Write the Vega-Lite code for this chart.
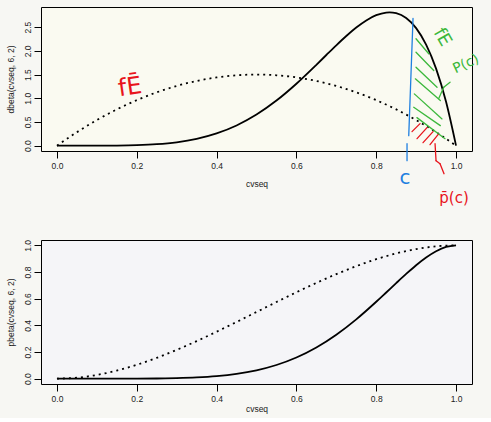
{
  "$schema": "https://vega.github.io/schema/vega-lite/v6.json",
  "background": "#f7f7f3",
  "padding": {"left": 5, "top": 6, "right": 16, "bottom": 4},
  "spacing": 89,
  "bounds": "flush",
  "config": {
    "font": "Liberation Sans",
    "view": {"stroke": "#000", "strokeWidth": 1},
    "axis": {
      "domain": false, "grid": false, "labelOverlap": false, "labelFlush": false,
      "tickColor": "#000", "tickSize": 7, "tickWidth": 1,
      "labelFont": "Liberation Sans", "labelFontSize": 8.5, "labelColor": "#222",
      "titleFont": "Liberation Sans", "titleFontSize": 8.5, "titleFontWeight": "normal", "titleColor": "#222"
    },
    "axisX": {"labelPadding": 3, "titlePadding": 10},
    "axisY": {"labelAngle": -90, "labelAlign": "center", "labelBaseline": "bottom", "labelPadding": 2, "titlePadding": 8, "labelOverlap": false}
  },
  "datasets": {
    "d62": [
      {"x": 0, "y": 0}, {"x": 0.05, "y": 0.00001}, {"x": 0.1, "y": 0.00038}, {"x": 0.15, "y": 0.0027},
      {"x": 0.2, "y": 0.0108}, {"x": 0.25, "y": 0.0308}, {"x": 0.3, "y": 0.0714}, {"x": 0.35, "y": 0.1434},
      {"x": 0.4, "y": 0.258}, {"x": 0.45, "y": 0.4263}, {"x": 0.5, "y": 0.6563}, {"x": 0.55, "y": 0.9512},
      {"x": 0.6, "y": 1.3064}, {"x": 0.65, "y": 1.7056}, {"x": 0.675, "y": 1.9127}, {"x": 0.7, "y": 2.1177},
      {"x": 0.725, "y": 2.3135}, {"x": 0.75, "y": 2.4917}, {"x": 0.775, "y": 2.642}, {"x": 0.8, "y": 2.7525},
      {"x": 0.825, "y": 2.809}, {"x": 0.8333, "y": 2.8131}, {"x": 0.85, "y": 2.7953}, {"x": 0.875, "y": 2.6928},
      {"x": 0.9, "y": 2.4801}, {"x": 0.925, "y": 2.1331}, {"x": 0.95, "y": 1.6249}, {"x": 0.975, "y": 0.9252},
      {"x": 1, "y": 0}
    ],
    "d22": [
      {"x": 0, "y": 0}, {"x": 0.05, "y": 0.285}, {"x": 0.1, "y": 0.54}, {"x": 0.15, "y": 0.765},
      {"x": 0.2, "y": 0.96}, {"x": 0.25, "y": 1.125}, {"x": 0.3, "y": 1.26}, {"x": 0.35, "y": 1.365},
      {"x": 0.4, "y": 1.44}, {"x": 0.45, "y": 1.485}, {"x": 0.5, "y": 1.5}, {"x": 0.55, "y": 1.485},
      {"x": 0.6, "y": 1.44}, {"x": 0.65, "y": 1.365}, {"x": 0.7, "y": 1.26}, {"x": 0.75, "y": 1.125},
      {"x": 0.8, "y": 0.96}, {"x": 0.85, "y": 0.765}, {"x": 0.9, "y": 0.54}, {"x": 0.95, "y": 0.285},
      {"x": 1, "y": 0}
    ],
    "p62": [
      {"x": 0, "y": 0}, {"x": 0.05, "y": 0}, {"x": 0.1, "y": 0.0000064}, {"x": 0.15, "y": 0.0000695},
      {"x": 0.2, "y": 0.000371}, {"x": 0.25, "y": 0.00134}, {"x": 0.3, "y": 0.00379}, {"x": 0.35, "y": 0.00901},
      {"x": 0.4, "y": 0.01884}, {"x": 0.45, "y": 0.0357}, {"x": 0.5, "y": 0.0625}, {"x": 0.55, "y": 0.1024},
      {"x": 0.6, "y": 0.1586}, {"x": 0.65, "y": 0.2338}, {"x": 0.7, "y": 0.3294}, {"x": 0.75, "y": 0.4449},
      {"x": 0.8, "y": 0.5767}, {"x": 0.825, "y": 0.6464}, {"x": 0.85, "y": 0.7166}, {"x": 0.875, "y": 0.7854},
      {"x": 0.9, "y": 0.8503}, {"x": 0.925, "y": 0.9083}, {"x": 0.95, "y": 0.9556}, {"x": 0.975, "y": 0.9879},
      {"x": 1, "y": 1}
    ],
    "p22": [
      {"x": 0, "y": 0}, {"x": 0.05, "y": 0.00725}, {"x": 0.1, "y": 0.028}, {"x": 0.15, "y": 0.06075},
      {"x": 0.2, "y": 0.104}, {"x": 0.25, "y": 0.15625}, {"x": 0.3, "y": 0.216}, {"x": 0.35, "y": 0.28175},
      {"x": 0.4, "y": 0.352}, {"x": 0.45, "y": 0.42525}, {"x": 0.5, "y": 0.5}, {"x": 0.55, "y": 0.57475},
      {"x": 0.6, "y": 0.648}, {"x": 0.65, "y": 0.71825}, {"x": 0.7, "y": 0.784}, {"x": 0.75, "y": 0.84375},
      {"x": 0.8, "y": 0.896}, {"x": 0.85, "y": 0.93925}, {"x": 0.9, "y": 0.972}, {"x": 0.95, "y": 0.99275},
      {"x": 1, "y": 1}
    ],
    "strokes": [
      {"x": 0.8997, "y": 2.256, "x2": 0.9316, "y2": 1.939, "c": "green"},
      {"x": 0.8997, "y": 1.972, "x2": 0.9441, "y2": 1.586, "c": "green"},
      {"x": 0.8997, "y": 1.655, "x2": 0.9524, "y2": 1.233, "c": "green"},
      {"x": 0.898, "y": 1.41, "x2": 0.9607, "y2": 0.951, "c": "green"},
      {"x": 0.8955, "y": 1.093, "x2": 0.9649, "y2": 0.564, "c": "green"},
      {"x": 0.894, "y": 0.81, "x2": 0.9607, "y2": 0.423, "c": "green"},
      {"x": 0.902, "y": 0.592, "x2": 0.9724, "y2": 0.148, "c": "green"},
      {"x": 0.9566, "y": 0.994, "x2": 0.9692, "y2": 1.233, "c": "green"},
      {"x": 0.9692, "y": 1.233, "x2": 0.985, "y2": 1.338, "c": "green"},
      {"x": 0.8897, "y": 0.296, "x2": 0.9098, "y2": 0.465, "c": "red"},
      {"x": 0.9023, "y": 0.148, "x2": 0.9273, "y2": 0.381, "c": "red"},
      {"x": 0.9173, "y": 0.063, "x2": 0.9424, "y2": 0.296, "c": "red"},
      {"x": 0.9348, "y": 0.021, "x2": 0.9549, "y2": 0.233, "c": "red"},
      {"x": 0.9474, "y": 0.042, "x2": 0.9499, "y2": -0.317, "c": "red"},
      {"x": 0.9499, "y": -0.317, "x2": 0.9599, "y2": -0.381, "c": "red"},
      {"x": 0.9599, "y": -0.381, "x2": 0.9699, "y2": -0.592, "c": "red"},
      {"x": 0.8922, "y": 2.685, "x2": 0.8815, "y2": 0.211, "c": "blue"},
      {"x": 0.8772, "y": 0.042, "x2": 0.8772, "y2": -0.317, "c": "blue"}
    ],
    "notes": [
      {"x": 0.183, "y": 1.226, "t": "fĒ", "c": "red", "a": -8, "s": 24},
      {"x": 0.872, "y": -0.677, "t": "c", "c": "blue", "a": 0, "s": 20},
      {"x": 0.965, "y": 2.283, "t": "fE", "c": "green", "a": 60, "s": 18},
      {"x": 1.025, "y": 1.72, "t": "P(c)", "c": "green", "a": -25, "s": 14},
      {"x": 0.995, "y": -1.099, "t": "p̄(c)", "c": "red", "a": 0, "s": 15}
    ]
  },
  "vconcat": [
    {
      "width": 431, "height": 144,
      "view": {"fill": "#fafaf1"},
      "layer": [
        {
          "data": {"name": "d62"},
          "mark": {"type": "line", "color": "#000", "strokeWidth": 1.8, "interpolate": "monotone"},
          "encoding": {
            "x": {"field": "x", "type": "quantitative", "scale": {"domain": [-0.04, 1.04], "nice": false, "zero": false},
                  "axis": {"values": [0, 0.2, 0.4, 0.6, 0.8, 1], "tickCount": 12, "format": ".1f", "title": "cvseq"}},
            "y": {"field": "y", "type": "quantitative", "scale": {"domain": [-0.1125, 2.9256], "nice": false, "zero": false},
                  "axis": {"values": [0, 0.5, 1, 1.5, 2, 2.5], "tickCount": 12, "format": ".1f", "title": "dbeta(cvseq, 6, 2)"}}
          }
        },
        {
          "data": {"name": "d22"},
          "mark": {"type": "line", "color": "#000", "strokeWidth": 1.8, "strokeDash": [2, 4], "interpolate": "monotone"},
          "encoding": {
            "x": {"field": "x", "type": "quantitative"},
            "y": {"field": "y", "type": "quantitative"}
          }
        },
        {
          "data": {"name": "strokes"},
          "mark": {"type": "rule", "strokeWidth": 1.3, "strokeCap": "round"},
          "encoding": {
            "x": {"field": "x", "type": "quantitative"},
            "y": {"field": "y", "type": "quantitative"},
            "x2": {"field": "x2"},
            "y2": {"field": "y2"},
            "color": {"field": "c", "type": "nominal", "legend": null,
                      "scale": {"domain": ["green", "red", "blue"], "range": ["#3cb83c", "#e8141c", "#1e7fe0"]}}
          }
        },
        {
          "data": {"name": "notes"},
          "mark": {"type": "text", "font": "DejaVu Sans", "align": "center", "baseline": "middle"},
          "encoding": {
            "x": {"field": "x", "type": "quantitative"},
            "y": {"field": "y", "type": "quantitative"},
            "text": {"field": "t"},
            "angle": {"field": "a", "type": "quantitative", "scale": null},
            "size": {"field": "s", "type": "quantitative", "scale": null},
            "color": {"field": "c", "type": "nominal", "legend": null,
                      "scale": {"domain": ["green", "red", "blue"], "range": ["#3cb83c", "#e8141c", "#1e7fe0"]}}
          }
        }
      ]
    },
    {
      "width": 431, "height": 144,
      "view": {"fill": "#f5f5f8"},
      "layer": [
        {
          "data": {"name": "p62"},
          "mark": {"type": "line", "color": "#000", "strokeWidth": 1.8, "interpolate": "monotone"},
          "encoding": {
            "x": {"field": "x", "type": "quantitative", "scale": {"domain": [-0.04, 1.04], "nice": false, "zero": false},
                  "axis": {"values": [0, 0.2, 0.4, 0.6, 0.8, 1], "tickCount": 12, "format": ".1f", "title": "cvseq", "titlePadding": 2}},
            "y": {"field": "y", "type": "quantitative", "scale": {"domain": [-0.04, 1.04], "nice": false, "zero": false},
                  "axis": {"values": [0, 0.2, 0.4, 0.6, 0.8, 1], "tickCount": 12, "format": ".1f", "title": "pbeta(cvseq, 6, 2)"}}
          }
        },
        {
          "data": {"name": "p22"},
          "mark": {"type": "line", "color": "#000", "strokeWidth": 1.8, "strokeDash": [2, 4], "interpolate": "monotone"},
          "encoding": {
            "x": {"field": "x", "type": "quantitative"},
            "y": {"field": "y", "type": "quantitative"}
          }
        }
      ]
    }
  ]
}
